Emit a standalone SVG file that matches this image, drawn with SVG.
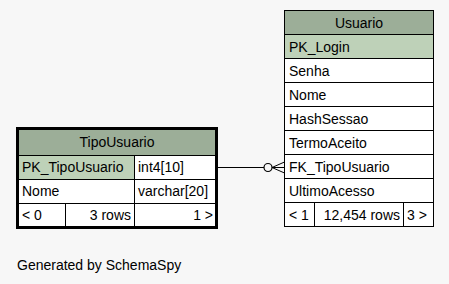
<svg xmlns="http://www.w3.org/2000/svg" width="449" height="284" viewBox="0 0 449 284">
  <style>
    text { font-family: "Liberation Sans", Arial, sans-serif; font-size: 14px; fill: #000; }
    .head { fill: #9cae98; }
    .pk { fill: #bed1b8; }
    .cell { fill: #ffffff; }
    .line { stroke: #000; stroke-width: 1; fill: none; }
    .mid { text-anchor: middle; }
    .end { text-anchor: end; }
  </style>
  <rect width="449" height="284" fill="#f7f7f7"/>

  <!-- relationship: TipoUsuario.PK_TipoUsuario -> Usuario.FK_TipoUsuario -->
  <g id="connectors">
    <path class="line" d="M218 167.5 H264"/>
    <circle cx="268" cy="167.5" r="4" fill="none" stroke="#000" stroke-width="1.2"/>
    <path class="line" d="M272 167.5 L284.5 162 M272 167.5 L284.5 167.5 M272 167.5 L284.5 173"/>
  </g>

  <g id="Usuario">
    <rect class="head" x="284.5" y="10.5" width="149" height="24"/>
    <rect class="pk" x="284.5" y="34.5" width="149" height="24"/>
    <rect class="cell" x="284.5" y="58.5" width="149" height="144"/>
    <rect class="cell" x="284.5" y="202.5" width="149" height="24"/>
    <path class="line" d="M284.5 34.5 H433.5 M284.5 58.5 H433.5 M284.5 82.5 H433.5 M284.5 106.5 H433.5 M284.5 130.5 H433.5 M284.5 154.5 H433.5 M284.5 178.5 H433.5 M284.5 202.5 H433.5 M314.5 202.5 V226.5 M403.5 202.5 V226.5"/>
    <rect class="line" x="284.5" y="10.5" width="149" height="216"/>
    <text class="mid" x="359" y="28">Usuario</text>
    <text x="289" y="52">PK_Login</text>
    <text x="289" y="76">Senha</text>
    <text x="289" y="100">Nome</text>
    <text x="289" y="124">HashSessao</text>
    <text x="289" y="148">TermoAceito</text>
    <text x="289" y="172">FK_TipoUsuario</text>
    <text x="289" y="196">UltimoAcesso</text>
    <text x="289" y="220">&lt; 1</text>
    <text class="end" x="400" y="220">12,454 rows</text>
    <text x="407" y="220">3 &gt;</text>
  </g>

  <g id="TipoUsuario">
    <rect class="head" x="17.5" y="128.5" width="199" height="27"/>
    <rect class="pk" x="17.5" y="155.5" width="117" height="24"/>
    <rect class="cell" x="134.5" y="155.5" width="82" height="24"/>
    <rect class="cell" x="17.5" y="179.5" width="199" height="48"/>
    <path class="line" d="M17.5 155.5 H216.5 M17.5 179.5 H216.5 M17.5 203.5 H216.5 M134.5 155.5 V227.5 M65.5 203.5 V227.5"/>
    <rect x="17.5" y="128.5" width="199" height="99" fill="none" stroke="#000" stroke-width="3"/>
    <text class="mid" x="117" y="147">TipoUsuario</text>
    <text x="22" y="172">PK_TipoUsuario</text>
    <text x="138" y="172">int4[10]</text>
    <text x="22" y="196">Nome</text>
    <text x="138" y="196">varchar[20]</text>
    <text x="22" y="220">&lt; 0</text>
    <text class="end" x="131" y="220">3 rows</text>
    <text class="end" x="213" y="220">1 &gt;</text>
  </g>

  <text x="17" y="270">Generated by SchemaSpy</text>
</svg>
